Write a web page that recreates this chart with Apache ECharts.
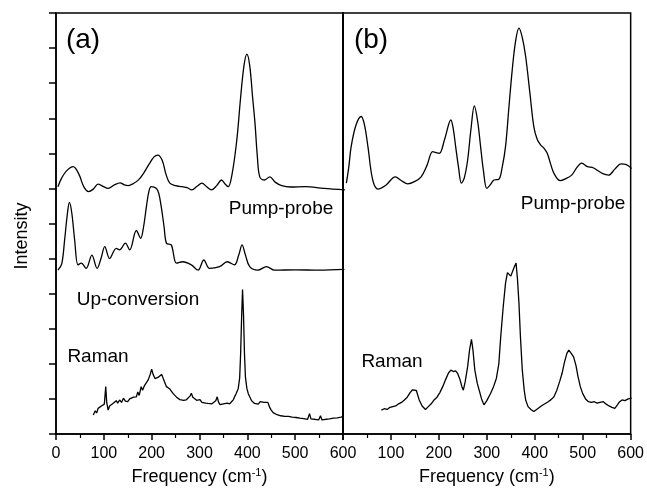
<!DOCTYPE html>
<html>
<head>
<meta charset="utf-8">
<script src="https://cdn.jsdelivr.net/npm/echarts@6/dist/echarts.min.js"></script>
<style>
html, body { margin: 0; padding: 0; background: #fff; }
#my { width: 647px; height: 499px; }
</style>
</head>
<body>
<div id="my"></div>
<script>
// x ticks (cm-1)
var freqTicks = [0, 100, 200, 300, 400, 500, 600];

// panel (a) : [frequency, intensity]
var pumpProbeA = [[4,7.05],[12,7.3],[22,7.5],[36,7.62],[48,7.4],[58,7.05],[68,6.91],[78,6.98],[88,7.12],[98,7.06],[109,7.0],[122,7.1],[134,7.16],[143,7.1],[151,7.08],[162,7.14],[173,7.25],[183,7.43],[195,7.7],[205,7.9],[213,7.95],[222,7.8],[230,7.4],[238,7.15],[250,7.08],[263,7.05],[274,7.02],[284,6.96],[295,7.06],[305,7.15],[315,7.05],[325,6.96],[336,7.08],[346,7.24],[354,7.12],[360,7.05],[368,7.4],[378,8.38],[386,9.6],[393,10.5],[399,10.83],[405,10.5],[411,9.6],[416,8.86],[421,7.9],[426,7.33],[436,7.24],[447,7.33],[458,7.18],[472,7.08],[490,7.04],[521,7.05],[560,7.0],[604,6.96]];
var upConversionA = [[4,4.67],[12,4.85],[18,5.53],[24,6.3],[28,6.6],[33,6.3],[39,5.53],[46,4.82],[53,4.87],[63,4.72],[75,5.1],[86,4.72],[94,5.0],[102,5.34],[112,5.0],[126,5.29],[133,5.25],[145,5.44],[154,5.25],[168,5.8],[177,5.58],[183,5.9],[189,6.48],[194,6.9],[199,7.05],[210,7.0],[215,6.85],[220,6.48],[226,5.9],[231,5.44],[241,5.39],[252,4.87],[265,4.91],[283,4.82],[297,4.67],[309,4.96],[321,4.72],[342,4.77],[358,4.91],[373,4.82],[382,5.1],[389,5.39],[396,5.1],[405,4.77],[422,4.67],[440,4.77],[457,4.67],[500,4.68],[550,4.67],[603,4.69]];
var ramanA = [[78,0.54],[82,0.66],[85,0.6],[88,0.73],[92,0.68],[95,0.8],[98,0.76],[101,0.85],[104,1.35],[106,0.9],[109,0.68],[112,0.8],[115,0.75],[119,0.87],[122,0.82],[126,0.95],[129,0.88],[133,0.97],[137,0.9],[141,1.02],[145,0.94],[150,0.92],[154,1.0],[158,0.96],[162,1.05],[165,1.0],[168,1.06],[171,1.2],[174,1.1],[178,1.35],[181,1.25],[185,1.38],[189,1.4],[193,1.55],[197,1.7],[200,1.85],[203,1.7],[207,1.58],[210,1.54],[214,1.62],[218,1.66],[221,1.7],[225,1.55],[228,1.45],[231,1.35],[235,1.38],[238,1.28],[241,1.25],[245,1.15],[249,1.1],[252,1.05],[255,1.02],[259,0.98],[263,1.03],[267,0.96],[272,0.97],[276,1.02],[280,1.08],[283,1.16],[286,1.05],[290,1.0],[294,0.96],[297,0.92],[301,0.98],[305,0.9],[309,0.93],[313,0.88],[318,0.87],[322,0.92],[326,0.86],[330,0.9],[334,0.95],[337,1.06],[340,0.9],[343,0.84],[346,0.8],[350,0.86],[354,0.82],[358,0.88],[363,0.86],[367,0.92],[371,0.98],[374,1.08],[377,1.16],[381,1.3],[384,1.6],[386,2.3],[388,3.3],[390,4.12],[392,3.4],[394,2.3],[396,1.63],[399,1.3],[402,1.15],[405,1.06],[409,0.95],[412,0.9],[415,0.87],[419,0.9],[423,0.85],[427,0.92],[431,0.88],[435,0.9],[439,0.86],[443,0.9],[447,0.75],[450,0.68],[454,0.61],[458,0.6],[462,0.55],[466,0.58],[470,0.52],[474,0.56],[478,0.5],[482,0.54],[486,0.5],[490,0.55],[494,0.48],[498,0.52],[502,0.47],[506,0.5],[510,0.45],[514,0.49],[518,0.44],[522,0.48],[526,0.42],[530,0.58],[533,0.43],[537,0.47],[541,0.42],[545,0.46],[549,0.4],[553,0.52],[556,0.4],[560,0.45],[564,0.42],[568,0.47],[572,0.43],[576,0.48],[580,0.45],[584,0.5],[588,0.46],[592,0.5],[596,0.48],[600,0.5]];

// panel (b)
var pumpProbeB = [[7,7.15],[12,7.6],[17,8.19],[27,8.8],[38,9.05],[45,8.8],[52,8.19],[62,7.24],[73,6.98],[90,7.1],[109,7.33],[122,7.22],[135,7.13],[150,7.2],[163,7.33],[175,7.65],[187,8.05],[194,8.02],[201,8.0],[212,8.4],[225,8.95],[230,8.7],[235,8.19],[241,7.6],[247,7.15],[253,7.3],[260,7.81],[267,8.7],[274,9.35],[281,8.9],[287,8.19],[293,7.5],[300,7.0],[307,7.1],[315,7.24],[325,7.26],[332,7.6],[339,8.19],[346,9.3],[353,10.38],[360,11.2],[367,11.57],[374,11.3],[381,10.76],[390,9.7],[398,8.76],[405,8.4],[412,8.24],[419,8.15],[426,8.0],[433,7.7],[440,7.43],[453,7.22],[465,7.28],[477,7.38],[488,7.6],[498,7.72],[510,7.62],[520,7.6],[529,7.53],[542,7.42],[554,7.38],[567,7.55],[580,7.7],[591,7.68],[602,7.57]];
var ramanB = [[80,0.68],[86,0.72],[92,0.7],[98,0.76],[104,0.78],[110,0.8],[116,0.86],[122,0.9],[128,0.97],[134,1.05],[140,1.18],[145,1.26],[149,1.3],[153,1.24],[159,0.97],[165,0.8],[172,0.7],[178,0.78],[184,0.86],[190,0.97],[196,1.05],[202,1.18],[208,1.35],[214,1.55],[220,1.74],[225,1.82],[230,1.78],[235,1.8],[239,1.73],[244,1.55],[248,1.35],[251,1.25],[255,1.5],[260,1.92],[264,2.4],[268,2.7],[271,2.4],[275,1.82],[280,1.45],[284,1.25],[289,1.0],[294,0.83],[300,0.95],[308,1.16],[314,1.35],[320,1.59],[325,2.0],[329,2.77],[334,3.6],[339,4.3],[343,4.6],[346,4.63],[350,4.5],[353,4.53],[357,4.75],[361,4.87],[364,4.4],[367,3.73],[370,2.8],[374,1.82],[378,1.25],[381,0.97],[386,0.78],[392,0.7],[398,0.64],[404,0.7],[410,0.76],[416,0.82],[422,0.87],[428,0.92],[434,0.98],[440,1.06],[446,1.25],[452,1.5],[457,1.73],[462,2.05],[467,2.3],[471,2.39],[476,2.3],[481,2.2],[486,1.95],[490,1.65],[495,1.35],[500,1.15],[506,1.0],[512,0.92],[518,0.9],[524,0.92],[530,0.88],[536,0.9],[543,0.92],[549,0.85],[555,0.8],[561,0.76],[567,0.73],[572,0.82],[577,0.92],[582,0.97],[588,0.95],[595,1.0],[602,1.02]];

var myChart = echarts.init(document.getElementById('my'), null, { renderer: 'canvas' });

var font = 'Liberation Sans, Arial, sans-serif';

// x 轴
function makeX(idx, showMin) {
	return {
		gridIndex: idx,
		type: 'value',
		min: freqTicks[0],
		max: freqTicks[freqTicks.length - 1],
		interval: freqTicks[1] - freqTicks[0],
		name: 'Frequency (cm{sup|-1})',
		nameLocation: 'middle',
		nameGap: 33,
		nameTextStyle: {
			color: '#000',
			fontSize: 18,
			fontFamily: font,
			rich: { sup: { fontSize: 11, verticalAlign: 'top', padding: [0, 0, 9, 0], fontFamily: font, color: '#000' } }
		},
		axisLine: { show: true, onZero: false, lineStyle: { color: '#000', width: 1.5 } },
		axisTick: { show: true, inside: false, length: 6, lineStyle: { color: '#000', width: 1.5 } },
		minorTick: { show: true, splitNumber: 2, length: 4, lineStyle: { color: '#000', width: 1.2 } },
		axisLabel: { color: '#000', fontSize: 16, margin: 12, fontFamily: font, showMinLabel: showMin },
		splitLine: { show: false }
	};
}

// y 轴
function makeY(idx, first) {
	return {
		gridIndex: idx,
		type: 'value',
		min: 0,
		max: 12,
		interval: 1,
		axisLine: { show: true, lineStyle: { color: '#000', width: first ? 1.5 : 2 } },
		axisTick: { show: first, inside: false, length: 7, lineStyle: { color: '#000', width: 1.5 } },
		axisLabel: { show: false },
		splitLine: { show: false }
	};
}

function line(name, data, xi, smooth) {
	return {
		name: name,
		type: 'line',
		xAxisIndex: xi,
		yAxisIndex: xi,
		data: data,
		smooth: smooth,
		showSymbol: false,
		symbol: 'none',
		silent: true,
		lineStyle: { color: '#000', width: 1.3 }
	};
}

function label(text, x, y, size, rot) {
	return {
		type: 'text',
		x: x,
		y: y,
		rotation: rot || 0,
		style: { text: text, fill: '#000', fontSize: size, fontFamily: font, align: 'center', verticalAlign: 'middle' }
	};
}

var option = {
	animation: false,
	backgroundColor: '#fff',
	grid: [
		{ left: 56, top: 13, width: 287, height: 421, show: true, borderColor: '#000', borderWidth: 1.5 },
		{ left: 343, top: 13, width: 289, height: 421, show: true, borderColor: '#000', borderWidth: 1.5 }
	],
	xAxis: [makeX(0, true), makeX(1, false)],
	yAxis: [makeY(0, true), makeY(1, false)],
	series: [
		line('Pump-probe (a)', pumpProbeA, 0, 0.35),
		line('Up-conversion (a)', upConversionA, 0, 0.35),
		line('Raman (a)', ramanA, 0, false),
		line('Pump-probe (b)', pumpProbeB, 1, 0.35),
		line('Raman (b)', ramanB, 1, false)
	],
	graphic: [
		label('Intensity', 22, 236, 18, Math.PI / 2),
		label('(a)', 83, 40, 28),
		label('(b)', 371, 40, 28),
		label('Pump-probe', 281, 209, 19),
		label('Up-conversion', 138, 300, 19),
		label('Raman', 98, 357, 19),
		label('Pump-probe', 573, 204, 19),
		label('Raman', 392, 362, 19)
	]
};

myChart.setOption(option);
</script>
</body>
</html>
